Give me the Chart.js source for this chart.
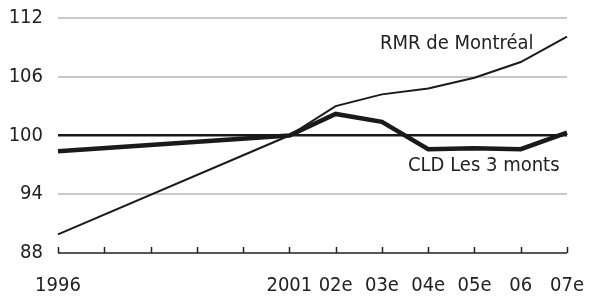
<!doctype html>
<html>
<head>
    <title>RMR de Montréal / CLD Les 3 monts</title>
    <script src="https://cdn.jsdelivr.net/npm/chart.js"></script>
    <style>
        html, body { margin: 0; padding: 0; background: #fff; }
        .wrapper { width: 597px; height: 296px; }
    </style>
</head>

<body>
    <div class="wrapper">
        <canvas id="chart" width="597" height="296"></canvas>
    </div>

    <script>
        // Data
        var years = ['1996', '', '', '', '', '2001', '02e', '03e', '04e', '05e', '06', '07e'];
        var montreal = [89.9, null, null, null, null, 100, 103.0, 104.2, 104.8, 105.9, 107.5, 110.1];
        var cld = [98.4, null, null, null, null, 100, 102.2, 101.4, 98.6, 98.7, 98.6, 100.3];
        var yTicks = [88, 94, 100, 106, 112];
        var seriesNames = ['RMR de Montréal', 'CLD Les 3 monts'];

        var FONT = "'Liberation Sans Narrow', 'Arial Narrow', 'DejaVu Sans Condensed', sans-serif";

        // tick marks pointing up from the x axis, plus the line labels
        var extras = {
            id: 'extras',
            afterDraw: function(chart) {
                var ctx = chart.ctx, x = chart.scales.x, a = chart.chartArea;
                ctx.save();
                ctx.strokeStyle = '#222';
                ctx.lineWidth = 1.5;
                ctx.beginPath();
                ctx.moveTo(a.left, a.bottom);
                ctx.lineTo(a.right, a.bottom);
                for (var i = 0; i < years.length; i++) {
                    var px = Math.round(x.getPixelForValue(i)) + 0.5;
                    ctx.moveTo(px, a.bottom);
                    ctx.lineTo(px, a.bottom - 6);
                }
                ctx.stroke();

                ctx.fillStyle = '#222';
                ctx.font = '20px ' + FONT;
                ctx.textBaseline = 'middle';
                ctx.textAlign = 'left';
                ctx.fillText(seriesNames[0], 380, 44);
                ctx.fillText(seriesNames[1], 408, 166);
                ctx.restore();
            }
        };

        const ctx = document.getElementById('chart').getContext('2d');
        var chart = new Chart(ctx, {
            type: 'line',
            data: {
                labels: years,
                datasets: [{
                    label: seriesNames[0],
                    data: montreal,
                    borderColor: '#1a1a1a',
                    borderWidth: 2,
                    pointRadius: 0,
                    tension: 0,
                    spanGaps: true,
                },
                {
                    label: seriesNames[1],
                    data: cld,
                    borderColor: '#1a1a1a',
                    borderWidth: 4.5,
                    pointRadius: 0,
                    tension: 0,
                    spanGaps: true,
                }]
            },
            options: {
                responsive: false,
                animation: false,
                layout: { padding: { left: 0, right: 23, top: 18, bottom: 0 } },
                plugins: {
                    legend: { display: false },
                    tooltip: { enabled: false },
                },
                scales: {
                    x: {
                        offset: false,
                        border: { display: false },
                        grid: { display: false },
                        afterFit: function(axis) { axis.height = 43; },
                        ticks: {
                            autoSkip: false,
                            maxRotation: 0,
                            padding: 13,
                            color: '#222',
                            font: { family: FONT, size: 20 },
                        },
                    },
                    y: {
                        min: 88,
                        max: 112,
                        border: { display: false },
                        afterFit: function(axis) {
                            axis.width = 58;
                            axis.paddingTop = 0;
                            axis.paddingBottom = 0;
                        },
                        afterBuildTicks: function(axis) {
                            axis.ticks = yTicks.map(function(v) { return { value: v }; });
                        },
                        grid: {
                            drawTicks: false,
                            color: function(c) {
                                if (c.tick && c.tick.value === 100) return '#1a1a1a';
                                if (c.tick && c.tick.value === 88) return 'rgba(0,0,0,0)';
                                return '#c8c8c8';
                            },
                            lineWidth: function(c) {
                                return (c.tick && c.tick.value === 100) ? 2.5 : 2;
                            },
                        },
                        ticks: {
                            padding: 15,
                            color: '#222',
                            font: { family: FONT, size: 20 },
                        },
                    },
                }
            },
            plugins: [extras]
        });
    </script>
</body>
</html>
